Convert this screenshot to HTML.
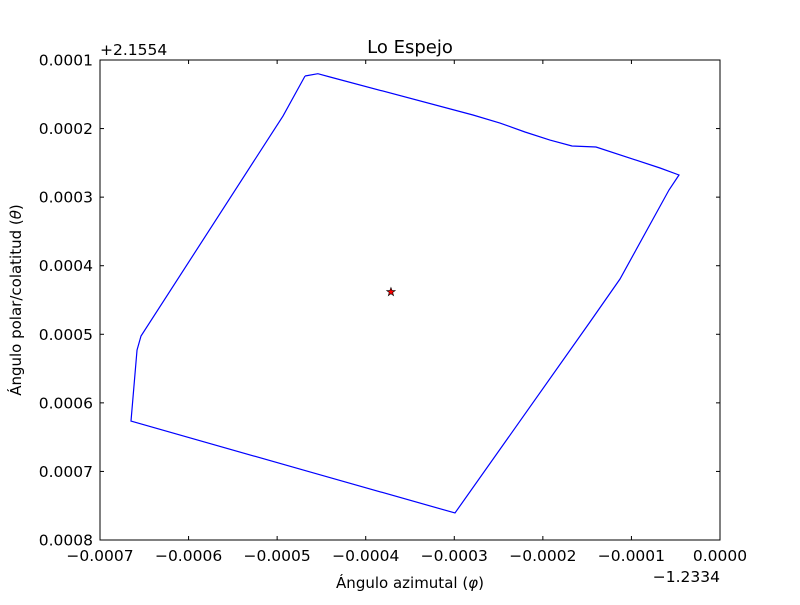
<!DOCTYPE html>
<html><head><meta charset="utf-8"><style>
body{margin:0;background:#fff;}
svg text{font-family:"DejaVu Sans","Liberation Sans",sans-serif;}
</style></head><body>
<svg id="chart" width="800" height="600" xmlns="http://www.w3.org/2000/svg">
<rect width="800" height="600" fill="#fff"/>
<text x="410" y="53" font-size="18" text-anchor="middle">Lo Espejo</text>
<text x="100" y="55" font-size="15.5">+2.1554</text>
<text x="720" y="582" font-size="15.5" text-anchor="end">−1.2334</text>
<text x="410" y="588" font-size="15" text-anchor="middle">Ángulo azimutal (<tspan font-style="italic">φ</tspan>)</text>
<text x="21" y="300" font-size="15" text-anchor="middle" transform="rotate(-90 21 300)">Ángulo polar/colatitud (<tspan font-style="italic">θ</tspan>)</text>
<g id="ticks"></g>
<polyline id="boundary" fill="none" stroke="#0000ff" stroke-width="1.2"/>
<g id="marker"></g>
<rect x="100" y="60" width="620" height="480" fill="none" stroke="#000" stroke-width="1"/>
</svg>
<script>
const xTicks=[-0.0007,-0.0006,-0.0005,-0.0004,-0.0003,-0.0002,-0.0001,0];
const xTickLabels=["−0.0007","−0.0006","−0.0005","−0.0004","−0.0003","−0.0002","−0.0001","0.0000"];
const yTicks=[0.0001,0.0002,0.0003,0.0004,0.0005,0.0006,0.0007,0.0008];
const yTickLabels=["0.0001","0.0002","0.0003","0.0004","0.0005","0.0006","0.0007","0.0008"];
const boundaryX=[-0.0004685,-0.000454,-0.0004403,-0.0002789,-0.0002484,-0.0002202,-0.000192,-0.0001671,-0.00014,-0.0000677,-0.0000463,-0.0000576,-0.0001129,-0.0001468,-0.0002992,-0.0004629,-0.000665,-0.0006582,-0.0006537,-0.0004934,-0.0004685];
const boundaryY=[0.0001233,0.000120,0.0001248,0.0001802,0.0001919,0.000205,0.0002167,0.0002254,0.0002269,0.0002575,0.0002677,0.0002896,0.0004194,0.0004821,0.0007606,0.0007008,0.0006265,0.000523,0.0005025,0.0001817,0.0001233];
const centerX=[-0.0003715];
const centerY=[0.0004383];
const L=100,R=720,T=60,B=540;
const xs=v=>L+(v+0.0007)/0.0007*(R-L);
const ys=v=>T+(v-0.0001)/0.0007*(B-T);
const NS="http://www.w3.org/2000/svg";
const tg=document.getElementById('ticks');
function mk(tag,attrs,parent){const e=document.createElementNS(NS,tag);for(const k in attrs)e.setAttribute(k,attrs[k]);parent.appendChild(e);return e;}
xTicks.forEach((v,i)=>{const x=xs(v);
 const a=mk('line',{x1:x,x2:x,y1:B,y2:B-4,stroke:'#000'},tg);
 const b=mk('line',{x1:x,x2:x,y1:T,y2:T+4,stroke:'#000'},tg);
 const t=mk('text',{x:x,y:B+21,'font-size':15.5,'text-anchor':'middle'},tg);t.textContent=xTickLabels[i];});
yTicks.forEach((v,i)=>{const y=ys(v);
 const a=mk('line',{x1:L,x2:L+4,y1:y,y2:y,stroke:'#000'},tg);
 const b=mk('line',{x1:R,x2:R-4,y1:y,y2:y,stroke:'#000'},tg);
 const t=mk('text',{x:L-7,y:y+5.5,'font-size':15.5,'text-anchor':'end'},tg);t.textContent=yTickLabels[i];});
document.getElementById('boundary').setAttribute('points',boundaryX.map((v,i)=>xs(v)+','+ys(boundaryY[i])).join(' '));
const mg=document.getElementById('marker');
centerX.forEach((v,i)=>{const cx=xs(v),cy=ys(centerY[i]);let p=[];
 for(let k=0;k<10;k++){const r=k%2?1.8:4.5,a=-Math.PI/2+k*Math.PI/5;p.push((cx+r*Math.cos(a))+','+(cy+r*Math.sin(a)));}
 const s=mk('polygon',{points:p.join(' '),fill:'#ff0000',stroke:'#000','stroke-width':0.6},mg);
 
 });
</script>
</body></html>
